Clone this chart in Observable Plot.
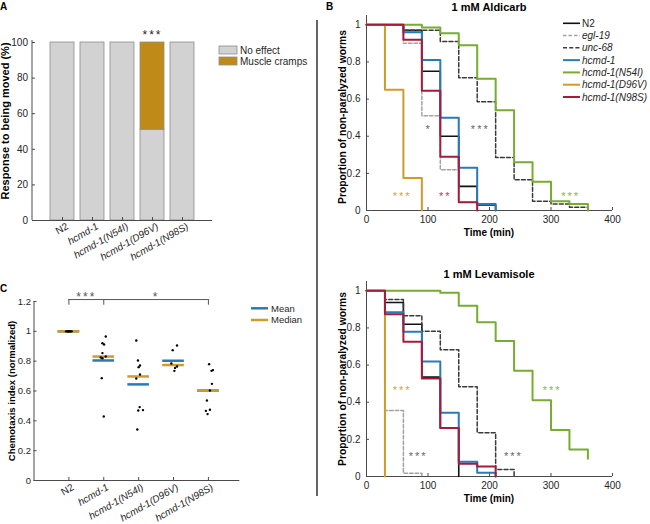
<!DOCTYPE html>
<html>
<head>
<meta charset="utf-8">
<script src="https://cdn.jsdelivr.net/npm/d3@7"></script>
<script src="https://cdn.jsdelivr.net/npm/@observablehq/plot@0.6"></script>
<style>
html,body{margin:0;padding:0;background:#fff;}
#root{position:relative;width:650px;height:524px;overflow:hidden;background:#fff;font-family:"Liberation Sans",Arial,Helvetica,sans-serif;}
</style>
</head>
<body>
<div id="root"></div>
<script>
// ================= DATA =================
// Panel A: response to being moved (%)
const strains = ["N2", "hcmd-1", "hcmd-1(N54I)", "hcmd-1(D96V)", "hcmd-1(N98S)"];
const responseTypes = ["No effect", "Muscle cramps"];
const noEffectPct = [100, 100, 100, 51, 100];
const muscleCrampsPct = [0, 0, 0, 49, 0];
const sigA = ["", "", "", "***", ""];
const yTicksA = [0, 20, 40, 60, 80, 100];

// Panel B: proportion of non-paralyzed worms over time
const timeMin = [0, 30, 60, 90, 120, 150, 180, 210, 240, 270, 300, 330, 360];
const seriesB = ["N2", "egl-19", "unc-68", "hcmd-1", "hcmd-1(N54I)", "hcmd-1(D96V)", "hcmd-1(N98S)"];
// 1 mM Aldicarb
const aldN2    = [1, 1, 0.97, 0.75, 0.40, 0.13, 0.03, 0];
const aldEgl19 = [1, 1, 0.90, 0.51, 0.22, 0.045, 0];
const aldUnc68 = [1, 1, 0.97, 0.97, 0.91, 0.715, 0.585, 0.285, 0.165, 0.05, 0.035, 0.018, 0];
const aldHcmd1 = [1, 1, 0.96, 0.81, 0.50, 0.23, 0.035, 0];
const aldN54I  = [1, 1, 1, 0.985, 0.955, 0.89, 0.71, 0.54, 0.26, 0.155, 0.05, 0.035, 0];
const aldD96V  = [1, 0.65, 0.175, 0];
const aldN98S  = [1, 1, 0.92, 0.645, 0.29, 0.045, 0];
// 1 mM Levamisole
const levN2    = [1, 0.937, 0.82, 0.535, 0.26, 0];
const levEgl19 = [1, 0.355, 0.018, 0];
const levUnc68 = [1, 0.953, 0.866, 0.782, 0.682, 0.483, 0.236, 0.038, 0];
const levHcmd1 = [1, 0.884, 0.78, 0.619, 0.343, 0.08, 0.02, 0];
const levN54I  = [1, 1, 1, 1, 0.99, 0.92, 0.83, 0.73, 0.57, 0.41, 0.25, 0.145, 0.095];
const levD96V  = [1, 0];
const levN98S  = [1, 0.873, 0.726, 0.528, 0.261, 0.068, 0.054, 0];
// significance annotations (time, proportion)
const aldSigSeries = ["hcmd-1(D96V)", "hcmd-1(N98S)", "egl-19", "unc-68", "hcmd-1(N54I)"];
const aldSigLabel  = ["***", "**", "*", "***", "***"];
const aldSigTime   = [58, 128, 101, 185, 332];
const aldSigProp   = [0.093, 0.093, 0.452, 0.452, 0.093];
const levSigSeries = ["hcmd-1(D96V)", "egl-19", "unc-68", "hcmd-1(N54I)"];
const levSigLabel  = ["***", "***", "***", "***"];
const levSigTime   = [58, 84, 239, 302];
const levSigProp   = [0.478, 0.123, 0.123, 0.478];
const xTicksB = [0, 100, 200, 300, 400];
const yTicksB = [0, 0.2, 0.4, 0.6, 0.8, 1];

// Panel C: chemotaxis index (normalized), individual experiments
const ciN2    = [1, 1, 1, 1, 1, 1, 1, 1];
const ciHcmd1 = [0.965, 0.92, 0.912, 0.854, 0.831, 0.825, 0.82, 0.686, 0.429];
const ciN54I  = [0.939, 0.804, 0.771, 0.76, 0.711, 0.684, 0.492, 0.469, 0.472, 0.342];
const ciD96V  = [0.905, 0.874, 0.784, 0.764, 0.755, 0.735];
const ciN98S  = [0.78, 0.74, 0.735, 0.648, 0.603, 0.536, 0.474, 0.467, 0.445];
// horizontal scatter of the dots (category units)
const jitN2    = [-0.08, -0.05, -0.03, -0.01, 0.01, 0.03, 0.05, 0.08];
const jitHcmd1 = [0.057, -0.038, 0.01, -0.038, 0.057, -0.086, -0.038, -0.057, 0];
const jitN54I  = [-0.067, -0.019, 0.038, 0, 0.038, -0.067, 0.029, -0.01, 0.124, -0.038];
const jitD96V  = [0.1, -0.024, -0.062, 0.1, 0.043, 0.024];
const jitN98S  = [0.02, 0.13, 0.09, 0.1, 0.043, -0.043, 0.043, -0.072, -0.024];
const sigCFrom  = ["N2", "hcmd-1"];
const sigCTo    = ["hcmd-1", "hcmd-1(N98S)"];
const sigCLabel = ["***", "*"];
const sigCLevel = 1.213;
const yTicksC = [0, 0.2, 0.4, 0.6, 0.8, 1, 1.2];

// ================= STYLES =================
const FONT = '"Liberation Sans", Arial, Helvetica, sans-serif';
const INK = "#262626";
const AXIS = "#4a4a4a";
const responseColors = ["#d2d2d2", "#c08a16"];
const seriesColor = ["#111111", "#a3a3a3", "#3a3a3a", "#2a7ab8", "#77ac30", "#d09c28", "#a51c3a"];
const seriesWidth = [1.6, 1.5, 1.5, 2, 2, 2, 2];
const seriesDash  = [null, "3.5,2", "4,2.2", null, null, null, null];
const starColorOf = {"N2": "#555", "egl-19": "#666", "unc-68": "#666", "hcmd-1": "#2a7ab8",
  "hcmd-1(N54I)": "#86b545", "hcmd-1(D96V)": "#d2a243", "hcmd-1(N98S)": "#b0405c"};
const MEAN_COLOR = "#2a7ab8";
const MEDIAN_COLOR = "#cf9b2f";
const baseStyle = {background: "transparent", overflow: "visible", fontFamily: FONT, fontSize: "9.5px", color: INK};
const plainNum = d => String(d);

const root = d3.select("#root");
function place(node, left, top) {
  node.style.position = "absolute";
  node.style.left = left + "px";
  node.style.top = top + "px";
  node.style.maxWidth = "none";
  root.node().appendChild(node);
}
function italicTicks(svg) {
  d3.select(svg).selectAll('g[aria-label="x-axis tick label"] text')
    .style("font-style", function () { return this.textContent === "N2" ? "normal" : "italic"; });
}
function spaceStars(svg, px) {
  d3.select(svg).selectAll('g[aria-label="text"] text').attr("letter-spacing", px + "px");
}

// ================= PANEL A =================
const tidyA = [];
[noEffectPct, muscleCrampsPct].forEach((vals, k) =>
  strains.forEach((s, i) => tidyA.push({strain: s, response: responseTypes[k], pct: vals[i]})));
const sigRowsA = strains.map((s, i) => ({strain: s, label: sigA[i], top: noEffectPct[i] + muscleCrampsPct[i]}))
  .filter(d => d.label);

const plotA = Plot.plot({
  width: 216, height: 280, marginLeft: 32, marginRight: 4, marginTop: 42, marginBottom: 60,
  style: baseStyle,
  x: {domain: strains, paddingInner: 0.2, paddingOuter: 0.6, label: null},
  y: {domain: [0, 100], label: null},
  color: {domain: responseTypes, range: responseColors},
  marks: [
    Plot.barY(tidyA, {x: "strain", y: "pct", fill: "response", stroke: "#8c8c8c", strokeWidth: 0.8}),
    Plot.ruleY([0], {stroke: AXIS}),
    Plot.axisY({ticks: yTicksA, tickSize: 0, tickPadding: 4.5, label: null, fontSize: 10}),
    Plot.axisY({ticks: yTicksA, tickSize: 3, dx: 3, tickFormat: () => "", label: null, stroke: AXIS}),
    Plot.axisX({tickSize: 0, tickRotate: -30, tickPadding: 5, dx: 5, label: null, fontSize: 10}),
    Plot.axisX({tickSize: 3, dy: -3, tickFormat: () => "", label: null, stroke: AXIS}),
    Plot.text(sigRowsA, {x: "strain", y: "top", text: "label", dy: -7, fontSize: 12, fill: INK})
  ]
});
italicTicks(plotA);
spaceStars(plotA, 2);
place(plotA, 0, 0);

// ================= PANEL B =================
function survivalPlot(values, sigSeries, sigLabel, sigTime, sigProp) {
  const rows = [];
  seriesB.forEach((name, i) => values[i].forEach((v, j) => rows.push({series: name, t: timeMin[j], p: v})));
  const sig = sigSeries.map((s, i) => ({series: s, label: sigLabel[i], t: sigTime[i], p: sigProp[i]}));
  const svg = Plot.plot({
    width: 300, height: 245, marginLeft: 36, marginRight: 18, marginTop: 15, marginBottom: 35,
    style: baseStyle,
    x: {domain: [0, 400], label: null},
    y: {domain: [0, 1.05], label: null},
    marks: [
      Plot.ruleY([0], {stroke: AXIS}),
      Plot.ruleX([0], {stroke: AXIS}),
      Plot.axisX({ticks: xTicksB, tickFormat: plainNum, tickSize: 0, tickPadding: 5.5, label: null, fontSize: 10}),
      Plot.axisX({ticks: xTicksB, tickSize: 3, dy: -3, tickFormat: () => "", label: null, stroke: AXIS}),
      Plot.axisY({ticks: yTicksB, tickFormat: plainNum, tickSize: 0, tickPadding: 6, label: null, fontSize: 10}),
      Plot.axisY({ticks: yTicksB, tickSize: 3, dx: 3, tickFormat: () => "", label: null, stroke: AXIS}),
      ...seriesB.map((name, i) => Plot.line(rows.filter(r => r.series === name), {
        x: "t", y: "p", curve: "step-after",
        stroke: seriesColor[i], strokeWidth: seriesWidth[i], strokeDasharray: seriesDash[i]
      })),
      ...sig.map(d => Plot.text([d], {x: "t", y: "p", text: "label", dy: 3, fontSize: 11, fill: starColorOf[d.series]}))
    ]
  });
  spaceStars(svg, 2);
  return svg;
}
const plotB1 = survivalPlot([aldN2, aldEgl19, aldUnc68, aldHcmd1, aldN54I, aldD96V, aldN98S],
  aldSigSeries, aldSigLabel, aldSigTime, aldSigProp);
place(plotB1, 330, 0);
const plotB2 = survivalPlot([levN2, levEgl19, levUnc68, levHcmd1, levN54I, levD96V, levN98S],
  levSigSeries, levSigLabel, levSigTime, levSigProp);
place(plotB2, 330, 266);

// ================= PANEL C =================
const ciByStrain = [ciN2, ciHcmd1, ciN54I, ciD96V, ciN98S];
const jitByStrain = [jitN2, jitHcmd1, jitN54I, jitD96V, jitN98S];
const tidyC = [];
ciByStrain.forEach((vals, i) => vals.forEach((v, j) => tidyC.push({pos: i + 1, xj: i + 1 + jitByStrain[i][j], ci: v})));
const statsC = ciByStrain.map((vals, i) => ({pos: i + 1, mean: d3.mean(vals), median: d3.median(vals)}));
const HALF = 0.31;
const sigC = sigCLabel.map((lab, k) => ({
  a: strains.indexOf(sigCFrom[k]) + 1, b: strains.indexOf(sigCTo[k]) + 1, label: lab, level: sigCLevel
}));
const tickEnds = Array.from(new Set(sigC.flatMap(d => [d.a, d.b])));

const plotC = Plot.plot({
  width: 250, height: 244, marginLeft: 33.5, marginRight: 10.7, marginTop: 21, marginBottom: 44,
  style: baseStyle,
  x: {domain: [0, 5.9], label: null},
  y: {domain: [0, 1.2], label: null},
  marks: [
    Plot.ruleY([0], {stroke: AXIS}),
    Plot.ruleX([0], {stroke: AXIS}),
    Plot.axisY({ticks: yTicksC, tickFormat: plainNum, tickSize: 0, tickPadding: 3, label: null, fontSize: 9.5}),
    Plot.axisY({ticks: yTicksC, tickSize: 3, dx: 3, tickFormat: () => "", label: null, stroke: AXIS}),
    Plot.axisX({ticks: [1, 2, 3, 4, 5], tickFormat: i => strains[i - 1], tickSize: 0, tickRotate: -30,
      tickPadding: 6, dx: 4, label: null, fontSize: 10}),
    Plot.axisX({ticks: [1, 2, 3, 4, 5], tickSize: 3, dy: -3, tickFormat: () => "", label: null, stroke: AXIS}),
    Plot.ruleY(statsC, {y: "mean", x1: d => d.pos - HALF, x2: d => d.pos + HALF, stroke: MEAN_COLOR, strokeWidth: 2.5}),
    Plot.ruleY(statsC, {y: "median", x1: d => d.pos - HALF, x2: d => d.pos + HALF, stroke: MEDIAN_COLOR, strokeWidth: 2.5}),
    Plot.dot(tidyC, {x: "xj", y: "ci", r: 1.2, fill: "#000", stroke: null}),
    Plot.ruleY(sigC, {y: "level", x1: "a", x2: "b", stroke: "#555", strokeWidth: 1}),
    Plot.ruleX(tickEnds, {x: d => d, y1: sigCLevel - 0.038, y2: sigCLevel, stroke: "#555", strokeWidth: 1}),
    Plot.text(sigC, {x: d => (d.a + d.b) / 2, y: "level", text: "label", dy: -2, fontSize: 12, fill: "#555"})
  ]
});
italicTicks(plotC);
spaceStars(plotC, 2);
place(plotC, 0, 280);

// ================= OVERLAY: labels, legends, divider =================
const ov = root.append("svg").attr("width", 650).attr("height", 524)
  .style("position", "absolute").style("left", "0px").style("top", "0px")
  .style("font-family", FONT).style("pointer-events", "none");

// divider
ov.append("line").attr("x1", 317).attr("x2", 317).attr("y1", 20).attr("y2", 496)
  .attr("stroke", "#555").attr("stroke-width", 1.8);

// panel letters
[["A", 0, 10], ["B", 326, 10], ["C", 0, 292]].forEach(([t, x, y]) =>
  ov.append("text").attr("x", x).attr("y", y).attr("font-weight", "bold").attr("font-size", 10).attr("fill", "#000").text(t));

// left axis line of panel A (band scale)
ov.append("line").attr("x1", 32).attr("x2", 32).attr("y1", 40).attr("y2", 220).attr("stroke", AXIS);

// axis titles
function vlabel(text, x, y, size) {
  ov.append("text").attr("transform", `translate(${x},${y}) rotate(-90)`).attr("text-anchor", "middle")
    .attr("font-weight", "bold").attr("font-size", size).attr("fill", "#000").text(text);
}
vlabel("Response to being moved (%)", 9, 121, 11);
vlabel("Proportion of non-paralyzed worms", 346, 117, 10.3);
vlabel("Proportion of non-paralyzed worms", 346, 379, 10.3);
vlabel("Chemotaxis index (normalized)", 14.5, 391, 9.5);
function hlabel(text, x, y, size) {
  ov.append("text").attr("x", x).attr("y", y).attr("text-anchor", "middle")
    .attr("font-weight", "bold").attr("font-size", size).attr("fill", "#000").text(text);
}
hlabel("1 mM Aldicarb", 489, 10.5, 11);
hlabel("1 mM Levamisole", 489, 277.5, 11);
hlabel("Time (min)", 489, 236, 10);
hlabel("Time (min)", 489, 502, 10);

// legend A
responseTypes.forEach((lab, i) => {
  const y = 46 + i * 11;
  ov.append("rect").attr("x", 219).attr("y", y).attr("width", 18).attr("height", 8)
    .attr("fill", responseColors[i]).attr("stroke", "#8c8c8c").attr("stroke-width", 0.8);
  ov.append("text").attr("x", 240).attr("y", y + 7.5).attr("font-size", 10).attr("fill", INK).text(lab);
});

// legend B
seriesB.forEach((name, i) => {
  const y = 23.3 + i * 12.28;
  ov.append("line").attr("x1", 563).attr("x2", 580).attr("y1", y).attr("y2", y)
    .attr("stroke", seriesColor[i]).attr("stroke-width", seriesWidth[i])
    .attr("stroke-dasharray", seriesDash[i]);
  ov.append("text").attr("x", 582).attr("y", y + 3.6).attr("font-size", 10).attr("fill", INK)
    .style("font-style", name === "N2" ? "normal" : "italic").text(name);
});

// legend C
[["Mean", MEAN_COLOR], ["Median", MEDIAN_COLOR]].forEach(([lab, col], i) => {
  const y = 308.3 + i * 11.7;
  ov.append("line").attr("x1", 251).attr("x2", 268).attr("y1", y).attr("y2", y)
    .attr("stroke", col).attr("stroke-width", 2.5);
  ov.append("text").attr("x", 271).attr("y", y + 3.4).attr("font-size", 9.5).attr("fill", INK).text(lab);
});
</script>
</body>
</html>
